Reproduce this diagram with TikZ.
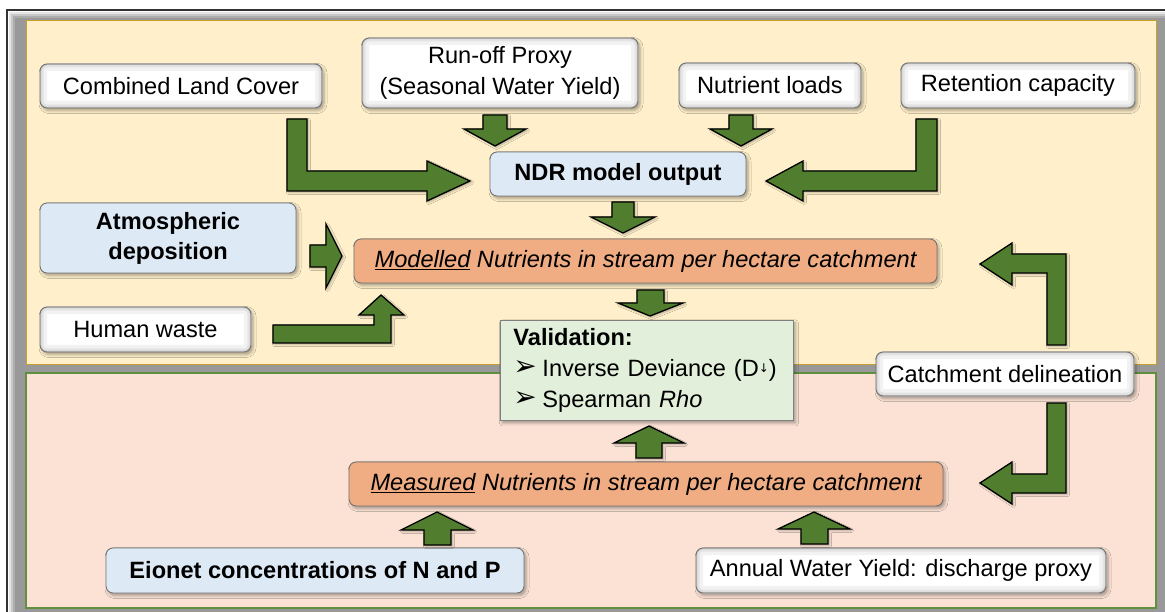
\documentclass[tikz,border=0pt]{standalone}
\usepackage{fontspec}
\setmainfont{Liberation Sans}
\newfontfamily\dejavu{DejaVu Sans}
\usetikzlibrary{shadows.blur}
\definecolor{panelY}{HTML}{FFF0CB}
\definecolor{panelP}{HTML}{FBE2D4}
\definecolor{panelYb}{HTML}{C9A030}
\definecolor{panelPb}{HTML}{5F8F3F}
\definecolor{boxblue}{HTML}{DDEAF6}
\definecolor{boxorange}{HTML}{F0AD83}
\definecolor{boxgreen}{HTML}{E2EFDA}
\definecolor{arrowgreen}{HTML}{507E2E}
\newcommand{\valbullet}{\makebox[29pt][l]{\raisebox{1pt}{\dejavu\fontsize{28}{28}\selectfont ➢}}}
\newcommand{\downarr}{\raisebox{4pt}{\dejavu\fontsize{12}{12}\selectfont ↓}}
\begin{document}
\begin{tikzpicture}[x=1pt,y=-1pt,
  every node/.style={font=\fontsize{23.6}{31}\selectfont},
  basebox/.style={rounded corners=7pt, draw=black!55, line width=0.9pt, inner sep=0pt, align=center,
    blur shadow={shadow xshift=2pt, shadow yshift=-2.5pt, shadow blur radius=3pt, shadow opacity=35}},
  wbox/.style={basebox, fill=white,
    path picture={
      \draw[black!5,line width=14pt,rounded corners=7pt] (path picture bounding box.south west) rectangle (path picture bounding box.north east);
      \draw[black!11,line width=7pt,rounded corners=7pt] (path picture bounding box.south west) rectangle (path picture bounding box.north east);
      \draw[black!22,line width=2.5pt,rounded corners=7pt] (path picture bounding box.south west) rectangle (path picture bounding box.north east);
    }},
  bbox/.style={basebox, fill=boxblue, font=\fontsize{23.6}{30}\selectfont\bfseries},
  obox/.style={basebox, fill=boxorange, font=\fontsize{23.6}{30}\selectfont\itshape},
  vbox/.style={draw=black!50, fill=boxgreen, line width=0.9pt, inner xsep=13pt, inner ysep=8pt,
    text width=267pt, align=left, font=\fontsize{23.6}{31}\selectfont,
    blur shadow={shadow xshift=2pt, shadow yshift=-2.5pt, shadow blur radius=3pt, shadow opacity=35}},
  blockarrow/.style={fill=arrowgreen, draw=black, line width=1.3pt, line join=miter,
    blur shadow={shadow xshift=1.5pt, shadow yshift=-1.5pt, shadow blur radius=2pt, shadow opacity=30}},
]
\useasboundingbox (0,0) rectangle (1165,612);
\fill[white] (0,0) rectangle (1165,612);
% gray surround / shadow
\fill[black!10] (9,12) rectangle (1165,612);
\fill[black!22] (11,14) rectangle (1165,612);
\fill[black!32] (13,16) rectangle (1165,612);
\fill[black!40] (15,18) rectangle (1165,612);
% frame
\draw[black!80, line width=1.6pt] (7,612) -- (7,10) -- (1165,10);
% panels
\draw[panelYb, fill=panelY, line width=1pt] (26,21) rectangle (1156,365);
\draw[panelPb, fill=panelP, line width=1.3pt] (26,373) rectangle (1156,608);

% nodes
\node[wbox, minimum width=282pt, minimum height=44pt] (land) at (181,86) {Combined Land Cover};
\node[wbox, minimum width=276pt, minimum height=70pt] (runoff) at (500,73) {Run-off Proxy\\(Seasonal Water Yield)};
\node[wbox, minimum width=182pt, minimum height=45pt] (loads) at (770,85.5) {Nutrient loads};
\node[wbox, minimum width=234pt, minimum height=45pt] (ret) at (1018,85.5) {Retention capacity};
\node[bbox, minimum width=256pt, minimum height=44pt] (ndr) at (618,174) {NDR model output};
\node[bbox, minimum width=256pt, minimum height=70pt] (atm) at (168,238) {Atmospheric\\deposition};
\node[obox, minimum width=583pt, minimum height=44pt] (mod) at (645.5,261) {\underline{Modelled} Nutrients in stream per hectare catchment};
\node[wbox, minimum width=211pt, minimum height=45pt] (human) at (145.5,329.5) {Human waste};
\node[vbox, anchor=north west] (val) at (500,320) {\textbf{Validation:}\\\valbullet Inverse Deviance (D\downarr)\\\valbullet Spearman \textit{Rho}};
\node[wbox, minimum width=258pt, minimum height=44pt] (catch) at (1005,374) {Catchment delineation};
\node[obox, minimum width=594pt, minimum height=44pt] (meas) at (646,484) {\underline{Measured} Nutrients in stream per hectare catchment};
\node[bbox, minimum width=418pt, minimum height=45pt] (eio) at (315,570.5) {Eionet concentrations of N and P};
\node[wbox, minimum width=410pt, minimum height=45pt] (annual) at (901,570.5) {Annual Water Yield: discharge proxy};

% block arrows
% run-off -> NDR
\draw[blockarrow] (483,115) -- (507,115) -- (507,129) -- (526,129) -- (495,146) -- (464,129) -- (483,129) -- cycle;
% nutrient loads -> NDR
\draw[blockarrow] (729,115) -- (753,115) -- (753,129) -- (772,129) -- (741,146) -- (710,129) -- (729,129) -- cycle;
% land cover -> NDR
\draw[blockarrow] (287,119) -- (307,119) -- (307,171) -- (427,171) -- (427,161) -- (470,181) -- (427,201) -- (427,191) -- (287,191) -- cycle;
% retention -> NDR
\draw[blockarrow] (937,119) -- (916,119) -- (916,171) -- (803,171) -- (803,161) -- (766,181) -- (803,201) -- (803,191) -- (937,191) -- cycle;
% NDR -> modelled
\draw[blockarrow] (612,202) -- (634,202) -- (634,217) -- (655,217) -- (623,233) -- (591,217) -- (612,217) -- cycle;
% atmospheric -> modelled
\draw[blockarrow] (310,245) -- (326,245) -- (326,224) -- (342,256) -- (326,288) -- (326,267) -- (310,267) -- cycle;
% human waste -> modelled
\draw[blockarrow] (273,325) -- (374,325) -- (374,315) -- (359,315) -- (381,295) -- (404,315) -- (391,315) -- (391,343) -- (273,343) -- cycle;
% modelled -> validation
\draw[blockarrow] (637,290) -- (664,290) -- (664,303) -- (683,303) -- (650,316) -- (618,303) -- (637,303) -- cycle;
% measured -> validation
\draw[blockarrow] (636,458) -- (662,458) -- (662,443) -- (684,443) -- (649,426) -- (614,443) -- (636,443) -- cycle;
% eionet -> measured
\draw[blockarrow] (424,545) -- (451,545) -- (451,530) -- (473,530) -- (437,512) -- (401,530) -- (424,530) -- cycle;
% annual -> measured
\draw[blockarrow] (801,544) -- (828,544) -- (828,529) -- (850,529) -- (814,512) -- (778,529) -- (801,529) -- cycle;
% catchment -> modelled
\draw[blockarrow] (1047,345) -- (1047,273) -- (1012,273) -- (1012,285) -- (980,264) -- (1012,243) -- (1012,254) -- (1066,254) -- (1066,345) -- cycle;
% catchment -> measured
\draw[blockarrow] (1047,403) -- (1066,403) -- (1066,493) -- (1012,493) -- (1012,504) -- (980,483) -- (1012,462) -- (1012,474) -- (1047,474) -- cycle;
\end{tikzpicture}
\end{document}
